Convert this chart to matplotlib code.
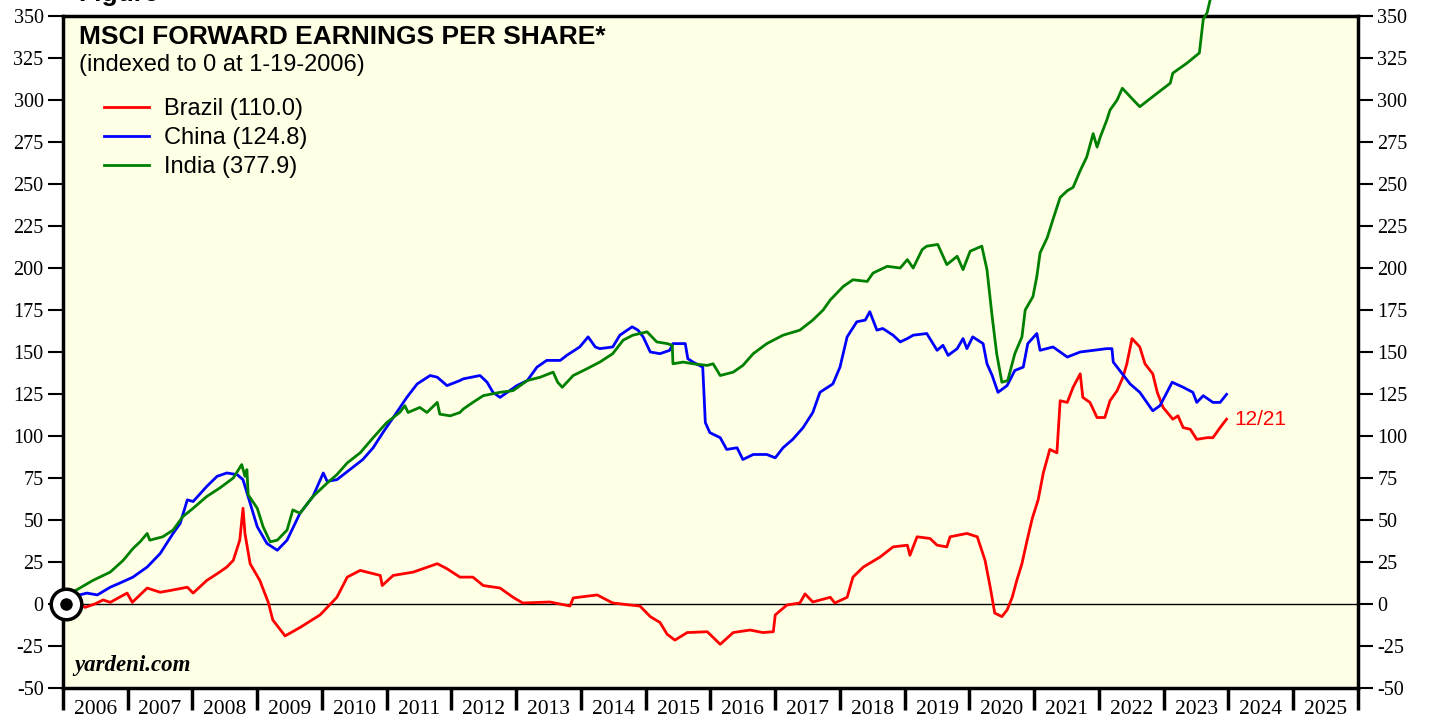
import matplotlib
matplotlib.use("Agg")
import matplotlib.pyplot as plt
import numpy as np

# MSCI forward EPS, indexed to 0 at 1-19-2006

brazil_t = [2006.05, 2006.19, 2006.34, 2006.49, 2006.62, 2006.73, 2006.99, 2007.07, 2007.30, 2007.50,
            2007.65, 2007.92, 2008.01, 2008.22, 2008.38, 2008.53, 2008.63, 2008.73, 2008.78, 2008.81,
            2008.89, 2009.04, 2009.17, 2009.24, 2009.43, 2009.66, 2009.97, 2010.23, 2010.39, 2010.59,
            2010.90, 2010.93, 2011.10, 2011.41, 2011.78, 2011.93, 2012.13, 2012.33, 2012.49, 2012.75,
            2012.95, 2013.10, 2013.52, 2013.83, 2013.88, 2014.25, 2014.49, 2014.76, 2014.91, 2015.07,
            2015.22, 2015.33, 2015.45, 2015.64, 2015.95, 2016.15, 2016.35, 2016.61, 2016.81, 2016.97,
            2017.00, 2017.18, 2017.38, 2017.46, 2017.58, 2017.85, 2017.92, 2018.11, 2018.20, 2018.36,
            2018.62, 2018.82, 2019.04, 2019.08, 2019.19, 2019.39, 2019.50, 2019.65, 2019.70, 2019.96,
            2020.12, 2020.24, 2020.32, 2020.39, 2020.50, 2020.58, 2020.66, 2020.73, 2020.81, 2020.89,
            2020.97, 2021.06, 2021.14, 2021.24, 2021.35, 2021.40, 2021.51, 2021.60, 2021.71, 2021.75,
            2021.86, 2021.97, 2022.09, 2022.17, 2022.28, 2022.37, 2022.43, 2022.51, 2022.63, 2022.71,
            2022.83, 2022.90, 2022.99, 2023.14, 2023.22, 2023.30, 2023.41, 2023.51, 2023.67, 2023.76,
            2023.87, 2023.97]
brazil_v = [0, 2.4, -2, 0, 2.4, 1, 6.5, 1, 9.5, 7,
            8, 10, 6.5, 14, 18, 22, 26, 38, 57, 42,
            24, 14, 1, -9.5, -19, -14, -6.5, 4, 16, 20,
            17, 11, 17, 19, 24, 21, 16, 16, 11, 9.5,
            4, 0.6, 1.2, -1.2, 3.6, 5.4, 0.6, -0.6, -1.2, -7.5,
            -11, -18, -21.5, -17, -16.5, -24, -17, -15.5, -17, -16.5,
            -6.5, -0.6, 0.6, 6, 1.2, 4, 0.6, 4, 16, 22,
            28, 34, 35, 29, 40, 39, 35, 34, 40, 42,
            40, 26, 10, -5.4, -7.5, -3.6, 4, 14, 24, 38,
            51, 62, 78, 92, 90, 121, 120, 129, 137, 123,
            120, 111, 111, 121, 127, 135, 143, 158, 153, 143,
            137, 126, 117, 110, 112, 105, 104, 98, 99, 99,
            105, 110.0]

china_t = [2006.05, 2006.11, 2006.37, 2006.53, 2006.73, 2006.88, 2007.08, 2007.30, 2007.50, 2007.70,
           2007.81, 2007.92, 2008.01, 2008.22, 2008.38, 2008.53, 2008.69, 2008.78, 2008.89, 2009.00,
           2009.15, 2009.31, 2009.46, 2009.66, 2009.86, 2010.02, 2010.08, 2010.23, 2010.43, 2010.63,
           2010.79, 2010.94, 2011.10, 2011.31, 2011.47, 2011.67, 2011.78, 2011.93, 2012.13, 2012.18,
           2012.44, 2012.55, 2012.64, 2012.75, 2013.01, 2013.17, 2013.32, 2013.47, 2013.68, 2013.78,
           2013.98, 2014.11, 2014.22, 2014.29, 2014.49, 2014.60, 2014.79, 2014.88, 2014.96, 2015.07,
           2015.22, 2015.37, 2015.42, 2015.61, 2015.65, 2015.73, 2015.88, 2015.92, 2015.99, 2016.15,
           2016.25, 2016.41, 2016.50, 2016.66, 2016.87, 2017.00, 2017.12, 2017.27, 2017.43, 2017.58,
           2017.69, 2017.89, 2018.00, 2018.11, 2018.26, 2018.39, 2018.46, 2018.57, 2018.66, 2018.82,
           2018.93, 2019.04, 2019.13, 2019.34, 2019.50, 2019.59, 2019.67, 2019.81, 2019.90, 2019.96,
           2020.05, 2020.21, 2020.27, 2020.35, 2020.44, 2020.58, 2020.70, 2020.83, 2020.90, 2021.04,
           2021.09, 2021.29, 2021.51, 2021.71, 2021.91, 2022.12, 2022.20, 2022.22, 2022.32, 2022.48,
           2022.63, 2022.83, 2022.94, 2023.05, 2023.13, 2023.30, 2023.45, 2023.51, 2023.61, 2023.76,
           2023.87, 2023.97]
china_v = [0, 4, 6.5, 5.4, 10, 12.5, 16, 22, 30, 42,
           48, 62, 61, 70, 76, 78, 77, 74, 60, 46,
           36, 32, 38, 54, 64, 78, 73, 74, 80, 86,
           93, 102, 111, 123, 131, 136, 135, 130, 133, 134,
           136, 132, 126, 123, 130, 133, 141, 145, 145, 148,
           153, 159, 153, 152, 153, 160, 165, 163, 159, 150,
           149, 151, 155, 155, 146, 144, 141, 108, 102, 99,
           92, 93, 86, 89, 89, 87, 93, 98, 105, 114,
           126, 131, 141, 159, 168, 169, 174, 163, 164, 160,
           156, 158, 160, 161, 151, 154, 148, 152, 158, 152,
           159, 155, 143, 136, 126, 130, 139, 141, 155, 161,
           151, 153, 147, 150, 151, 152, 152, 144, 139, 131,
           126, 115, 118, 126, 132, 129, 126, 120, 124, 120,
           120, 124.8]

india_t = [2006.05, 2006.10, 2006.26, 2006.46, 2006.73, 2006.93, 2007.08, 2007.19, 2007.30, 2007.34,
           2007.54, 2007.70, 2007.85, 2008.01, 2008.22, 2008.42, 2008.63, 2008.76, 2008.81, 2008.84,
           2008.86, 2009.00, 2009.09, 2009.20, 2009.31, 2009.46, 2009.55, 2009.66, 2009.86, 2010.08,
           2010.23, 2010.39, 2010.59, 2010.79, 2011.00, 2011.20, 2011.28, 2011.33, 2011.51, 2011.62,
           2011.78, 2011.82, 2011.98, 2012.13, 2012.18, 2012.33, 2012.49, 2012.75, 2012.95, 2013.17,
           2013.37, 2013.57, 2013.64, 2013.71, 2013.88, 2014.09, 2014.29, 2014.49, 2014.65, 2014.80,
           2015.02, 2015.17, 2015.33, 2015.41, 2015.42, 2015.58, 2015.73, 2015.95, 2016.04, 2016.15,
           2016.35, 2016.50, 2016.66, 2016.87, 2017.12, 2017.38, 2017.58, 2017.74, 2017.85, 2018.05,
           2018.20, 2018.42, 2018.51, 2018.73, 2018.93, 2019.04, 2019.13, 2019.27, 2019.34, 2019.51,
           2019.65, 2019.81, 2019.90, 2020.01, 2020.19, 2020.27, 2020.35, 2020.42, 2020.50, 2020.59,
           2020.70, 2020.81, 2020.86, 2020.98, 2021.04, 2021.09, 2021.20, 2021.29, 2021.40, 2021.51,
           2021.60, 2021.71, 2021.81, 2021.91, 2021.97, 2022.02, 2022.12, 2022.17, 2022.28, 2022.36,
           2022.53, 2022.63, 2022.83, 2023.10, 2023.14, 2023.36, 2023.55, 2023.61, 2023.67, 2023.75,
           2023.97]
india_v = [0, 6, 9.5, 14, 19, 26, 33, 37, 42, 38,
           40, 44, 52, 57, 64, 69, 75, 83, 76, 80,
           65, 57, 46, 37, 38, 44, 56, 54, 64, 72,
           77, 84, 90, 99, 108, 114, 118, 114, 117, 114,
           120, 113, 112, 114, 116, 120, 124, 126, 127, 133,
           135, 138, 132, 129, 136, 140, 144, 149, 157, 160,
           162, 156, 155, 154, 143, 144, 143, 142, 143, 136,
           138, 142, 149, 155, 160, 163, 169, 175, 181, 189,
           193, 192, 197, 201, 200, 205, 200, 211, 213, 214,
           202, 207, 199, 210, 213, 199, 171, 149, 132, 133,
           149, 159, 175, 183, 195, 209, 218, 229, 242, 246,
           248, 258, 266, 280, 272, 278, 288, 294, 300, 307,
           300, 296, 302, 310, 316, 322, 328, 348, 352, 365,
           377.9]

series = [("Brazil (110.0)", brazil_t, brazil_v, "#ff0000"),
          ("China (124.8)", china_t, china_v, "#0000ff"),
          ("India (377.9)", india_t, india_v, "#008000")]

years = list(range(2006, 2026))
yticks = list(range(-50, 351, 25))

serif = "Liberation Serif"
sans = "Liberation Sans"

fig = plt.figure(figsize=(14.29, 7.19), dpi=100)
ax = fig.add_axes([63 / 1429, 1 - 688 / 719, 1295 / 1429, 672 / 719])
ax.set_facecolor("#ffffe6")

ax.axhline(0, color="black", lw=1.0, zorder=1)
for name, t, v, c in series:
    ax.plot(t, v, color=c, lw=2.0, label=name, zorder=3,
            clip_on=(name[:5] != "India"))

ax.plot([2006.05], [0], marker="o", ms=22, mfc="white", mec="black", mew=2.5, zorder=5, clip_on=False)
ax.plot([2006.05], [0], marker="o", ms=8, mfc="black", mec="black", zorder=6, clip_on=False)

ax.set_xlim(2006, 2026)
ax.set_ylim(-50, 350)

ax.set_xticks(years + [2026])
ax.set_xticklabels([])
ax.set_xticks([y + 0.5 for y in years], minor=True)
ax.set_xticklabels([str(y) for y in years], minor=True, fontfamily=serif, fontsize=15.5)
ax.tick_params(axis="x", which="major", length=16, width=2.5, direction="out")
ax.tick_params(axis="x", which="minor", length=0, pad=9)

ax.set_yticks(yticks)
ax.set_yticklabels([str(y) for y in yticks], fontfamily=serif, fontsize=14.5)
ax.tick_params(axis="y", which="major", length=11, width=1.5, direction="out",
               left=True, right=True, labelleft=True, labelright=True, pad=3)

for s in ax.spines.values():
    s.set_linewidth(2.5)

ax.text(0.012, 0.987, "MSCI FORWARD EARNINGS PER SHARE*", transform=ax.transAxes,
        fontfamily=sans, fontweight="bold", fontsize=19, va="top", ha="left")
ax.text(0.012, 0.943, "(indexed to 0 at 1-19-2006)", transform=ax.transAxes,
        fontfamily=sans, fontsize=17, va="top", ha="left")

leg = ax.legend(loc="upper left", bbox_to_anchor=(0.032, 0.878), frameon=False,
                prop={"family": sans, "size": 17}, handlelength=1.9, handletextpad=0.64,
                labelspacing=0.3, borderaxespad=0, borderpad=0)

ax.text(2023.97 + 0.12, 110, "12/21", color="#ff0000", fontfamily=sans, fontsize=15,
        va="center", ha="left")
ax.text(0.009, 0.018, "yardeni.com", transform=ax.transAxes, fontfamily=serif,
        fontweight="bold", fontstyle="italic", fontsize=16.5, va="bottom", ha="left")

fig.text(0.055, 1 - 1 / 719, "Figure", fontfamily=sans, fontweight="bold", fontsize=19,
         va="baseline", ha="left")

fig.savefig("out.png", dpi=100, facecolor="white")
